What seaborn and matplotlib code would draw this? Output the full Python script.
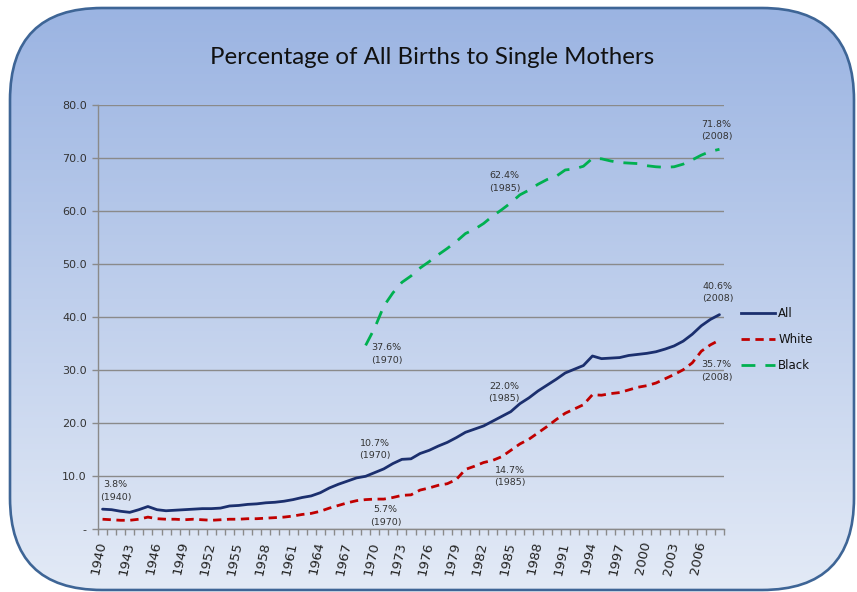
import numpy as np
import pandas as pd
import matplotlib
matplotlib.use("Agg")
import matplotlib.pyplot as plt
import seaborn as sns
from matplotlib.patches import FancyBboxPatch
from matplotlib.colors import LinearSegmentedColormap
from matplotlib.lines import Line2D
from matplotlib.ticker import FixedLocator

# ---------------- data ----------------
years = list(range(1940, 2009))
all_pct = [3.8, 3.7, 3.4, 3.2, 3.7, 4.3, 3.7, 3.5, 3.6, 3.7,
           3.8, 3.9, 3.9, 4.0, 4.4, 4.5, 4.7, 4.8, 5.0, 5.1,
           5.3, 5.6, 6.0, 6.3, 6.9, 7.8, 8.5, 9.1, 9.7, 10.0,
           10.7, 11.4, 12.4, 13.2, 13.3, 14.3, 14.9, 15.7, 16.4, 17.3,
           18.3, 18.9, 19.5, 20.4, 21.3, 22.2, 23.7, 24.8, 26.1, 27.2,
           28.3, 29.5, 30.2, 30.9, 32.7, 32.2, 32.3, 32.4, 32.8, 33.0,
           33.2, 33.5, 34.0, 34.6, 35.5, 36.8, 38.4, 39.6, 40.5]
white_pct = [1.9, 1.8, 1.7, 1.7, 1.9, 2.3, 2.0, 1.9, 1.9, 1.8,
             1.9, 1.8, 1.7, 1.8, 1.9, 1.9, 2.0, 2.0, 2.1, 2.2,
             2.3, 2.5, 2.8, 3.0, 3.4, 4.0, 4.5, 5.0, 5.4, 5.6,
             5.7, 5.7, 6.0, 6.4, 6.5, 7.4, 7.8, 8.3, 8.6, 9.4,
             11.3, 11.9, 12.6, 13.0, 13.7, 14.9, 16.1, 17.0, 18.2, 19.4,
             20.7, 21.9, 22.7, 23.5, 25.4, 25.3, 25.6, 25.8, 26.3, 26.8,
             27.1, 27.6, 28.4, 29.2, 30.1, 31.4, 33.6, 34.8, 35.7]
black_years = list(range(1969, 2009))
black_pct = [34.7, 38.0, 42.1, 44.6, 46.6, 47.8, 49.3, 50.5, 51.8, 53.0,
             54.3, 55.8, 56.6, 57.7, 59.1, 60.3, 61.6, 63.1, 64.0, 65.1,
             66.0, 66.6, 67.8, 68.0, 68.5, 70.0, 69.9, 69.5, 69.2, 69.1,
             69.0, 68.6, 68.4, 68.3, 68.4, 68.9, 69.7, 70.6, 71.3, 71.7]
series_names = ["All", "White", "Black"]
y_ticks = [0, 10, 20, 30, 40, 50, 60, 70, 80]
y_tick_labels = ["-", "10.0", "20.0", "30.0", "40.0", "50.0", "60.0", "70.0", "80.0"]
x_label_years = list(range(1940, 2009, 3))
title = "Percentage of All Births to Single Mothers"
# (series, year, text, dx px, dy px)
notes = [
    ("All", 1940, "3.8%\n(1940)", 13, 18),
    ("All", 1970, "10.7%\n(1970)", 0, 23),
    ("White", 1970, "5.7%\n(1970)", 11, -17),
    ("Black", 1970, "37.6%\n(1970)", 12, -26),
    ("Black", 1985, "62.4%\n(1985)", -6, 21),
    ("Black", 2008, "71.8%\n(2008)", -3, 19),
    ("All", 2008, "40.6%\n(2008)", -2, 22),
    ("White", 2008, "35.7%\n(2008)", -3, -31),
    ("All", 1985, "22.0%\n(1985)", -7, 19),
    ("White", 1985, "14.7%\n(1985)", -1, -26),
]

colors = {"All": "#1B2F6E", "White": "#C00000", "Black": "#00B050"}
dashes = {"All": "", "White": (3, 2), "Black": (5, 3.6)}

frames = [
    pd.DataFrame({"year": years, "pct": all_pct, "series": "All"}),
    pd.DataFrame({"year": years, "pct": white_pct, "series": "White"}),
    pd.DataFrame({"year": black_years, "pct": black_pct, "series": "Black"}),
]
df = pd.concat(frames, ignore_index=True)
df["idx"] = df["year"] - years[0]

# ---------------- figure ----------------
W, H = 857, 592
fig = plt.figure(figsize=(W / 100, H / 100), dpi=100)
fig.patch.set_facecolor("white")

bg = fig.add_axes([0, 0, 1, 1], zorder=0)
bg.set_xlim(0, W)
bg.set_ylim(H, 0)
bg.axis("off")
bx0, by0, bx1, by1 = 10, 8, 854, 590
box = FancyBboxPatch((bx0, by0), bx1 - bx0, by1 - by0,
                     boxstyle="round,pad=0,rounding_size=92",
                     facecolor="none", edgecolor="#3E6596", linewidth=1.9, zorder=3)
bg.add_patch(box)
grad = np.linspace(0, 1, 256).reshape(-1, 1)
cmap = LinearSegmentedColormap.from_list("g", ["#9BB4E2", "#E3EAF6"])
im = bg.imshow(grad, cmap=cmap, extent=(bx0, bx1, by1, by0), aspect="auto",
               origin="upper", zorder=1)
im.set_clip_path(box)

fig.text(432 / W, 1 - 57 / H, title, ha="center", va="center",
         fontsize=17.3, family="Lato", color="#111111")

left, right, top, bottom = 98, 724, 105.3, 529.3
ax = fig.add_axes([left / W, 1 - bottom / H, (right - left) / W, (bottom - top) / H], zorder=2)
ax.patch.set_visible(False)

sns.lineplot(data=df, x="idx", y="pct", hue="series", style="series",
             hue_order=series_names, style_order=series_names,
             palette=colors, dashes=dashes, linewidth=2.0,
             estimator=None, sort=False, legend=False, ax=ax)
for ln in ax.get_lines():
    ln.set_solid_joinstyle("round")
    ln.set_solid_capstyle("round")
    ln.set_dash_capstyle("butt")

ax.set_xlim(-0.5, len(years) - 0.5)
ax.set_ylim(0, 80)
ax.set_xlabel("")
ax.set_ylabel("")

gc = "#8A8A8A"
ax.set_yticks(y_ticks)
ax.set_yticklabels(y_tick_labels, fontsize=8, color="#333333", family="DejaVu Sans")
ax.yaxis.grid(True, color=gc, linewidth=1.0)
ax.xaxis.grid(False)
ax.set_axisbelow(True)
ax.tick_params(axis="y", length=4, color=gc, width=1, pad=4)

ax.set_xticks([y - years[0] for y in x_label_years])
ax.set_xticklabels([str(y) for y in x_label_years], rotation=78, ha="right", va="center",
                   rotation_mode="anchor", fontsize=9.5, color="#222222", family="DejaVu Sans")
ax.xaxis.set_minor_locator(FixedLocator(np.arange(-0.5, len(years), 1.0)))
ax.tick_params(axis="x", which="major", length=0, pad=9)
ax.tick_params(axis="x", which="minor", length=4, color=gc, width=1)

for s in ["top", "right"]:
    ax.spines[s].set_visible(False)
for s in ["left", "bottom"]:
    ax.spines[s].set_color(gc)
    ax.spines[s].set_linewidth(1.0)

lookup = {(r.series, r.year): r.pct for r in df.itertuples()}
for ser, yr, txt, dx, dy in notes:
    ax.annotate(txt, xy=(yr - years[0], lookup[(ser, yr)]), xytext=(dx, dy),
                textcoords="offset pixels", ha="center", va="center",
                fontsize=6.8, color="#333333", linespacing=1.5, family="DejaVu Sans")

handles = [Line2D([], [], color=colors[n], linewidth=2.0,
                  linestyle="-" if n == "All" else (0, dashes[n])) for n in series_names]
leg = fig.legend(handles, series_names, loc="center left",
                 bbox_to_anchor=(741 / W, 1 - 339.5 / H), frameon=False,
                 fontsize=8.5, handlelength=2.9, handletextpad=0.25,
                 labelspacing=1.1, borderpad=0, borderaxespad=0)
for t in leg.get_texts():
    t.set_color("#111111")

fig.savefig("out.png", dpi=100)
